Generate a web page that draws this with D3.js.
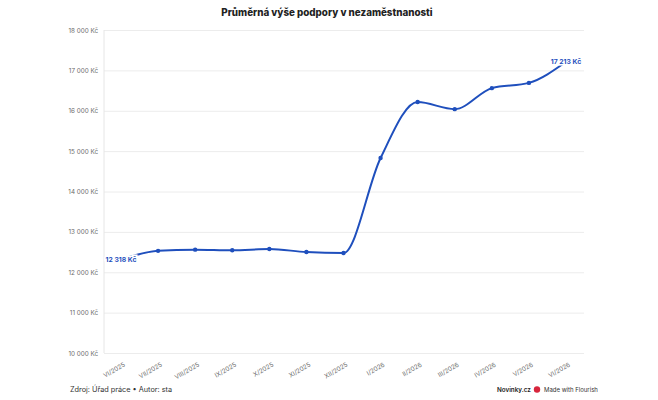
<!DOCTYPE html>
<html>
<head>
<meta charset="utf-8">
<script src="https://cdn.jsdelivr.net/npm/d3@7"></script>
<style>
  body { margin: 0; background: #fff; font-family: Inter, "Noto Sans", sans-serif; }
</style>
</head>
<body>
<div id="chart"></div>
<script>
const months = ["VI/2025", "VII/2025", "VIII/2025", "IX/2025", "X/2025", "XI/2025", "XII/2025",
  "I/2026", "II/2026", "III/2026", "IV/2026", "V/2026", "VI/2026"];
const support = [12318, 12530, 12560, 12545, 12575, 12500, 12476, 14830, 16215, 16040, 16560, 16690, 17213];
const yTicks = [10000, 11000, 12000, 13000, 14000, 15000, 16000, 17000, 18000];

const width = 658;
const height = 400;
const margin = { top: 30, right: 74, bottom: 47, left: 104 };
const blue = "#1f4fbd";

const fmt = (v) => d3.format(",")(v).replace(/,/g, " ") + " Kč";

const svg = d3
  .select("#chart")
  .append("svg")
  .attr("width", width)
  .attr("height", height);

const x = d3
  .scalePoint()
  .domain(months)
  .range([margin.left + 17, width - margin.right - 18]);

const y = d3
  .scaleLinear()
  .domain([10000, 18000])
  .range([height - margin.bottom, margin.top]);

// title
svg
  .append("text")
  .attr("x", 327)
  .attr("y", 16)
  .attr("text-anchor", "middle")
  .style("font-size", "9.8px")
  .style("font-weight", "800")
  .style("fill", "#222")
  .text("Průměrná výše podpory v nezaměstnanosti");

// gridlines + y labels
const yAxis = svg
  .append("g")
  .attr("transform", `translate(${margin.left},0)`)
  .call(
    d3.axisLeft(y)
      .tickValues(yTicks)
      .tickSize(-(width - margin.left - margin.right))
      .tickPadding(6)
      .tickFormat(fmt)
  );
yAxis.select(".domain").remove();
yAxis.selectAll(".tick line").attr("stroke", "#ececec");
yAxis
  .selectAll(".tick text")
  .attr("fill", "#6a6a6a")
  .style("font-size", "6.3px")
  .style("font-family", "Inter, sans-serif");

svg
  .append("line")
  .attr("x1", margin.left)
  .attr("x2", margin.left)
  .attr("y1", margin.top)
  .attr("y2", height - margin.bottom)
  .attr("stroke", "#e6e6e6");

// x labels
const xAxis = svg
  .append("g")
  .attr("transform", `translate(0,${height - margin.bottom})`)
  .call(d3.axisBottom(x).tickSize(0).tickPadding(0));
xAxis.select(".domain").remove();
xAxis
  .selectAll(".tick text")
  .attr("text-anchor", "end")
  .attr("transform", "translate(3,11) rotate(-30)")
  .attr("dy", "0.35em")
  .attr("fill", "#6a6a6a")
  .style("font-size", "6.3px")
  .style("font-family", "Inter, sans-serif");

// line
const line = d3
  .line()
  .x((d, i) => x(months[i]))
  .y((d) => y(d))
  .curve(d3.curveMonotoneX);

svg
  .append("path")
  .datum(support)
  .attr("d", line)
  .attr("fill", "none")
  .attr("stroke", blue)
  .attr("stroke-width", 2);

svg
  .selectAll(".dot")
  .data(support)
  .enter()
  .append("circle")
  .attr("class", "dot")
  .attr("cx", (d, i) => x(months[i]))
  .attr("cy", (d) => y(d))
  .attr("r", 2.2)
  .attr("fill", blue);

// end labels
const ends = [0, support.length - 1];
svg
  .selectAll(".val")
  .data(ends)
  .enter()
  .append("text")
  .attr("class", "val")
  .attr("x", (i) => x(months[i]))
  .attr("y", (i) => y(support[i]) + 2.5)
  .attr("text-anchor", "middle")
  .style("font-size", "6.8px")
  .style("font-weight", "700")
  .style("fill", blue)
  .style("stroke", "#fff")
  .style("stroke-width", "3px")
  .style("paint-order", "stroke")
  .text((i) => fmt(support[i]));

// footer
svg
  .append("text")
  .attr("x", 70)
  .attr("y", 392)
  .style("font-size", "7.3px")
  .style("fill", "#333")
  .text("Zdroj: Úřad práce • Autor: sta");

svg
  .append("text")
  .attr("x", 497)
  .attr("y", 391.5)
  .style("font-size", "6.3px")
  .style("font-weight", "600")
  .style("fill", "#222")
  .text("Novinky.cz");

svg
  .append("circle")
  .attr("cx", 537)
  .attr("cy", 389.5)
  .attr("r", 3.2)
  .attr("fill", "#d7263d");

svg
  .append("text")
  .attr("x", 544)
  .attr("y", 391.5)
  .style("font-size", "6px")
  .style("fill", "#333")
  .text("Made with Flourish");
</script>
</body>
</html>
